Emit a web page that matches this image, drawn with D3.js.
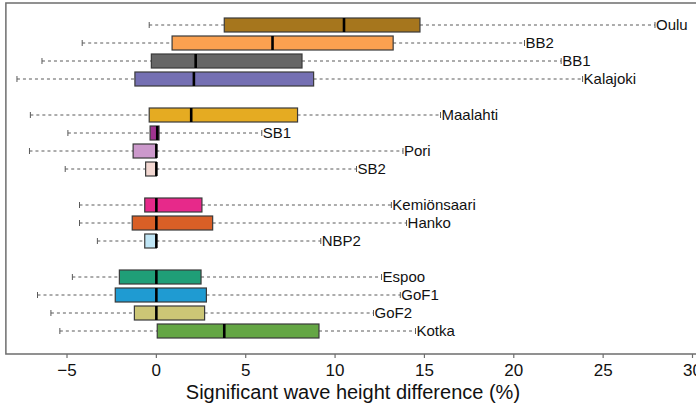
<!DOCTYPE html>
<html>
<head>
<meta charset="utf-8">
<script src="https://cdn.jsdelivr.net/npm/d3@7"></script>
<style>
  html, body { margin: 0; padding: 0; background: #fff; }
  svg { display: block; font-family: "Liberation Sans", Arial, Helvetica, sans-serif; }
</style>
</head>
<body>
<svg id="chart" width="696" height="405"></svg>
<script>
// Stations, top to bottom, with their row slot (gaps separate the regional groups)
const stations = ["Oulu", "BB2", "BB1", "Kalajoki", "Maalahti", "SB1", "Pori", "SB2",
                  "Kemiönsaari", "Hanko", "NBP2", "Espoo", "GoF1", "GoF2", "Kotka"];
const rowSlot  = [0, 1, 2, 3, 5, 6, 7, 8, 10, 11, 12, 14, 15, 16, 17];

// Box-plot statistics (%)
const whiskerLow  = [-0.4, -4.15, -6.4, -7.8, -7.05, -4.95, -7.1, -5.1, -4.3, -4.3, -3.3, -4.7, -6.65, -5.9, -5.4];
const q1          = [3.8, 0.88, -0.28, -1.2, -0.4, -0.35, -1.3, -0.6, -0.65, -1.35, -0.65, -2.07, -2.3, -1.23, 0.05];
const median      = [10.5, 6.5, 2.2, 2.1, 1.95, 0.05, 0, 0, 0, 0, 0, 0, 0, 0, 3.8];
const q3          = [14.75, 13.25, 8.15, 8.8, 7.9, 0.15, 0, 0, 2.55, 3.15, 0, 2.5, 2.8, 2.7, 9.1];
const whiskerHigh = [27.9, 20.6, 22.65, 23.85, 15.9, 5.9, 13.8, 11.2, 13.15, 14.0, 9.2, 12.6, 13.65, 12.15, 14.5];

const boxColors = ["#A6761D", "#FBA150", "#666666", "#7570B3", "#E5AB22", "#A0338F", "#CC99CC", "#F3D8D2",
                   "#E7298A", "#D95F26", "#C0E6F6", "#1F9E77", "#1F9BD2", "#CCC676", "#64A644"];

const xTicks = [-5, 0, 5, 10, 15, 20, 25, 30];
const xTitle = "Significant wave height difference (%)";

const svg = d3.select("#chart");

const x = d3.scaleLinear().domain([-5, 30]).range([67, 692.5]);
const y = d3.scaleLinear().domain([0, 17]).range([25, 331]);

const frameLeft = x(-8.42), frameTop = 3, frameBottom = 354;
const boxH = 14, capH = 6;

// Plot frame (left, top, bottom; the right side runs off the canvas)
const frame = svg.append("g").attr("fill", "none").attr("stroke", "#6e6e6e").attr("stroke-width", 1.5);
frame.append("path")
  .attr("d", `M${x(31)},${frameTop}H${frameLeft}V${frameBottom}H${x(31)}`);

const rows = stations.map((name, i) => ({
  name, slot: rowSlot[i], lo: whiskerLow[i], q1: q1[i], med: median[i], q3: q3[i], hi: whiskerHigh[i], color: boxColors[i]
}));

const g = svg.append("g");
const row = g.selectAll("g.row").data(rows).join("g").attr("class", "row")
  .attr("transform", d => `translate(0,${y(d.slot)})`);

// Whiskers
row.append("line")
  .attr("x1", d => x(d.lo)).attr("x2", d => x(d.q1))
  .attr("stroke", "#5a5a5a").attr("stroke-width", 1).attr("stroke-dasharray", "3,3");
row.append("line")
  .attr("x1", d => x(d.q3)).attr("x2", d => x(d.hi))
  .attr("stroke", "#5a5a5a").attr("stroke-width", 1).attr("stroke-dasharray", "3,3");
// Whisker caps
row.selectAll("line.cap").data(d => [d.lo, d.hi]).join("line").attr("class", "cap")
  .attr("x1", v => x(v)).attr("x2", v => x(v))
  .attr("y1", -capH / 2).attr("y2", capH / 2)
  .attr("stroke", "#5a5a5a").attr("stroke-width", 1);

// Boxes
row.append("rect")
  .attr("x", d => x(d.q1))
  .attr("width", d => Math.max(0, x(d.q3) - x(d.q1)))
  .attr("y", -boxH / 2).attr("height", boxH)
  .attr("fill", d => d.color)
  .attr("stroke", "#3a3a3a").attr("stroke-width", 1.2);

// Medians
row.append("line")
  .attr("x1", d => x(d.med)).attr("x2", d => x(d.med))
  .attr("y1", -boxH / 2).attr("y2", boxH / 2)
  .attr("stroke", "#000").attr("stroke-width", 2.6);

// Station labels at the upper whisker end
row.append("text")
  .attr("x", d => x(d.hi) + 1)
  .attr("dy", "0.36em")
  .attr("font-size", 15)
  .attr("fill", "#111")
  .text(d => d.name);

// X axis ticks and labels
const ax = svg.append("g");
ax.selectAll("line").data(xTicks).join("line")
  .attr("x1", d => x(d)).attr("x2", d => x(d))
  .attr("y1", frameBottom).attr("y2", frameBottom + 4)
  .attr("stroke", "#6e6e6e").attr("stroke-width", 1.2);
ax.selectAll("text").data(xTicks).join("text")
  .attr("x", d => x(d)).attr("y", 375.5)
  .attr("text-anchor", "middle")
  .attr("font-size", 17)
  .attr("fill", "#111")
  .text(d => d < 0 ? "\u2212" + Math.abs(d) : String(d));

svg.append("text")
  .attr("x", x(11.0)).attr("y", 398.5)
  .attr("text-anchor", "middle")
  .attr("font-size", 20)
  .attr("fill", "#111")
  .text(xTitle);
</script>
</body>
</html>
